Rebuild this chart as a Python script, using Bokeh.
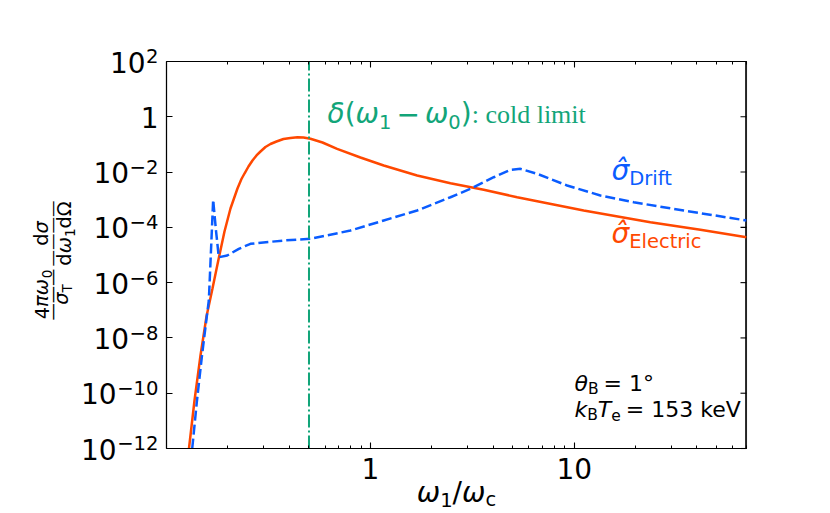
import math
from bokeh.plotting import figure
from bokeh.models import (Range1d, FixedTicker, CustomJSTickFormatter, LogAxis, Label, BoxAnnotation)
from bokeh.embed import file_html
from bokeh.resources import INLINE

# ---------------- data ----------------
omega_electric = [0.1289, 0.1372, 0.1468, 0.1571, 0.1681, 0.1799, 0.1925, 0.206, 0.2229,
                  0.2332, 0.2413, 0.2524, 0.2641, 0.2764, 0.2891, 0.3058, 0.3236, 0.3464,
                  0.3748, 0.4056, 0.439, 0.4698, 0.5085, 0.5823, 0.687, 0.894,
                  1.163, 1.696, 2.471, 3.599, 5.248, 11.13, 23.64, 41.59, 70.0]
sigma_electric = [1e-12, 5.45e-11, 2.31e-9, 5.96e-8, 6.14e-7, 6.87e-6, 7.08e-5, 4.81e-4, 2.55e-3,
                  5.61e-3, 8.87e-3, 0.0159, 0.0262, 0.0398, 0.0555, 0.0807, 0.1036, 0.1276,
                  0.157, 0.171, 0.1826, 0.178, 0.16, 0.1175, 0.0695, 0.0337,
                  0.0173, 0.0075, 3.96e-3, 2.29e-3, 1.23e-3, 4.07e-4, 1.54e-4, 8.2e-5, 4.4e-5]

omega_drift = [0.1337, 0.1411, 0.1493, 0.1576, 0.1613, 0.1653, 0.1694, 0.1749, 0.1805,
               0.1985, 0.2263, 0.2582, 0.376, 0.5085, 0.799, 1.163, 1.696, 2.471, 3.097,
               4.029, 4.866, 5.449, 6.577, 9.23, 13.44, 19.58, 34.44, 70.0]
sigma_drift = [1e-12, 5.45e-11, 2.31e-9, 5.96e-8, 2.26e-7, 1.46e-5, 9.9e-4, 7.69e-5, 8.3e-6,
               9.6e-6, 1.67e-5, 2.54e-5, 3.35e-5, 3.85e-5, 7.7e-5, 1.77e-4, 4.07e-4, 1.23e-3, 2.48e-3,
               6.5e-3, 0.0121, 0.0131, 8.65e-3, 3.27e-3, 1.42e-3, 8.1e-4, 4.07e-4, 1.77e-4]

cold_limit_omega = 0.5

x_axis_limits = [0.1, 70.0]
y_axis_limits = [1e-12, 1e2]
x_major_ticks = [1, 10]
x_minor_ticks = [0.1, 0.2, 0.3, 0.4, 0.5, 0.6, 0.7, 0.8, 0.9,
                 2, 3, 4, 5, 6, 7, 8, 9, 20, 30, 40, 50, 60, 70]
y_major_ticks = [1e-12, 1e-10, 1e-8, 1e-6, 1e-4, 1e-2, 1, 1e2]

ORANGE = "#ff4800"
BLUE = "#0a5cff"
GREEN = "#12a579"

# ---------------- geometry: the axes box inside an 830x513 canvas ----------------
W_PX, H_PX = 830, 513
BL, BR, BT, BB = 166, 746, 61, 448
TICK = 6
DX = (BR - BL) / math.log10(x_axis_limits[1] / x_axis_limits[0])
DY = (BB - BT) / math.log10(y_axis_limits[1] / y_axis_limits[0])
x_view = (x_axis_limits[0] * 10 ** (-BL / DX), x_axis_limits[1] * 10 ** ((W_PX - BR) / DX))
y_view = (y_axis_limits[0] * 10 ** (-(H_PX - BB) / DY), y_axis_limits[1] * 10 ** (BT / DY))

p = figure(width=W_PX, height=H_PX, x_axis_type="log", y_axis_type="log",
           x_range=Range1d(*x_view), y_range=Range1d(*y_view),
           x_axis_location=None, y_axis_location=None,
           output_backend="svg", toolbar_location=None,
           min_border_left=0, min_border_right=0, min_border_top=0, min_border_bottom=0)
p.xgrid.visible = False
p.ygrid.visible = False
p.outline_line_color = None
p.background_fill_color = "white"
p.border_fill_color = "white"

x_fmt = CustomJSTickFormatter(code="return String(Math.round(tick));")
blank_fmt = CustomJSTickFormatter(code="return '';")


def make_axis(ticker, fmt, loc, bounds, show_labels, standoff):
    ax = LogAxis(fixed_location=loc, bounds=bounds)
    ax.ticker = ticker
    ax.formatter = fmt
    ax.major_tick_in = TICK
    ax.major_tick_out = 0
    ax.minor_tick_in = 3
    ax.minor_tick_out = 0
    ax.axis_line_color = "black"
    ax.axis_line_width = 1.2
    ax.major_tick_line_color = "black"
    ax.major_tick_line_width = 1.1
    ax.minor_tick_line_color = "black"
    ax.minor_tick_line_width = 1.0
    ax.major_label_text_font = "DejaVu Sans"
    ax.major_label_text_font_size = "28px" if show_labels else "1px"
    ax.major_label_text_color = "black"
    ax.major_label_standoff = standoff
    return ax


xt = lambda: FixedTicker(ticks=x_major_ticks, minor_ticks=x_minor_ticks)
yt = lambda: FixedTicker(ticks=y_major_ticks, minor_ticks=[])
p.add_layout(make_axis(xt(), x_fmt, y_axis_limits[0], tuple(x_axis_limits), True, 9), "below")
p.add_layout(make_axis(xt(), blank_fmt, y_axis_limits[1], tuple(x_axis_limits), False, 0), "above")
p.add_layout(make_axis(yt(), blank_fmt, x_axis_limits[0], tuple(y_axis_limits), False, 0), "left")

# box outline around the axes area (gives the right-hand edge)
p.add_layout(BoxAnnotation(left=x_axis_limits[0], right=x_axis_limits[1],
                           bottom=y_axis_limits[0], top=y_axis_limits[1],
                           fill_color=None, fill_alpha=0, line_color="black", line_width=1.2,
                           level="overlay"))
x_edge = x_axis_limits[1] * 10 ** (-1.0 / DX)
p.quad(left=[x_edge], right=[x_axis_limits[1]], bottom=[y_axis_limits[0]], top=[y_axis_limits[1]],
       fill_color="black", line_color="black", line_width=0.6)
p.segment(x0=[x_axis_limits[1]] * len(y_major_ticks), y0=y_major_ticks,
          x1=[x_axis_limits[1] * 10 ** (-TICK / DX)] * len(y_major_ticks), y1=y_major_ticks,
          line_color="black", line_width=1.1)

# ---------------- curves ----------------
p.line(omega_electric, sigma_electric, line_color=ORANGE, line_width=2.5)
p.line(omega_drift, sigma_drift, line_color=BLUE, line_width=2.5, line_dash="10 4")
p.line([cold_limit_omega, cold_limit_omega], y_axis_limits, line_color=GREEN,
       line_width=2, line_dash="13 3 2 3")

# ---------------- text helpers (canvas-pixel placement -> data coords) ----------------


def X(px):
    return x_axis_limits[0] * 10 ** ((px - BL) / DX)


def Y(py):
    return y_axis_limits[1] * 10 ** (-(py - BT) / DY)


ADV = {' ': 0.318, '=': 0.838, '\u2212': 0.838, '(': 0.390, ')': 0.390, '/': 0.337, ':': 0.337,
       '\u00b0': 0.5, 'k': 0.579, 'e': 0.615, 'V': 0.684, 'T': 0.611, 'B': 0.686, 'D': 0.770,
       'r': 0.411, 'i': 0.278, 'f': 0.352, 't': 0.392, 'E': 0.632, 'l': 0.278, 'c': 0.550,
       'd': 0.635, '\u03b8': 0.613, '\u03c3': 0.634, '\u03c9': 0.838, '\u03b4': 0.612,
       '\u03c0': 0.636, '\u03a9': 0.764, '\u2014': 1.0, '\u0302': 0.0}
for dgt in "0123456789":
    ADV[dgt] = 0.636
MID = 0.346   # distance from baseline to the middle of the em box (DejaVu Sans)


def tw(s, size):
    return sum(ADV.get(ch, 0.6) for ch in s) * size


def rich(pieces, x, y, color="black", align="left", rotate=False, font="DejaVu Sans", mid=MID):
    """pieces: (text, size, style, baseline shift down, gap before); (x, y) = baseline start."""
    total = sum(tw(t, s) + pre for (t, s, st, dy, pre) in pieces)
    pos = {"left": 0.0, "center": -total / 2, "right": -total}[align]
    for t, s, st, dy, pre in pieces:
        pos += pre
        if rotate:
            px, py, ang = x + dy - mid * s, y - pos, math.pi / 2
        else:
            px, py, ang = x + pos, y + dy - mid * s, 0.0
        p.add_layout(Label(x=X(px), y=Y(py), text=t, text_font=font, text_font_size=f"{s}px",
                           text_font_style=st, text_color=color, angle=ang,
                           text_align="left", text_baseline="middle"))
        pos += tw(t, s)
    return x + pos


# y tick labels: 10 with a raised exponent
for t in y_major_ticks:
    e = round(math.log10(t))
    ty = BT + (math.log10(y_axis_limits[1]) - e) * DY
    if e == 0:
        rich([("1", 28, "normal", 0, 0)], 158, ty + 10.2, align="right")
    else:
        rich([("10", 28, "normal", 0, 0), (str(e).replace("-", "\u2212"), 19.6, "normal", -8.5, 0.5)],
             158, ty + 10.2, align="right")

# cold-limit annotation
end = rich([("\u03b4", 28, "italic", 0, 0), ("(", 28, "normal", 0, 0), ("\u03c9", 28, "italic", 0, 0),
            ("1", 19.5, "normal", 5, 0), ("\u2212", 28, "normal", 0, 5), ("\u03c9", 28, "italic", 0, 5),
            ("0", 19.5, "normal", 5, 0), (")", 28, "normal", 0, 0)], 327, 123, color=GREEN)
p.add_layout(Label(x=X(end), y=Y(123 - 0.34 * 26), text=": cold limit", text_font="Liberation Serif",
                   text_font_size="26px", text_color=GREEN, text_align="left",
                   text_baseline="middle"))

# series labels
rich([("\u03c3\u0302", 28, "italic", 0, 0), ("Drift", 19.5, "normal", 5, 0)], 611, 180, color=BLUE)
rich([("\u03c3\u0302", 28, "italic", 0, 0), ("Electric", 19.5, "normal", 5, 0)], 611, 243, color=ORANGE)

# parameters
rich([("\u03b8", 22, "italic", 0, 0), ("B", 15.5, "normal", 3, 0), ("= 1\u00b0", 22, "normal", 0, 5)], 574, 391)
rich([("k", 22, "italic", 0, 0), ("B", 15.5, "normal", 3, 0), ("T", 22, "italic", 0, 0),
      ("e", 15.5, "normal", 3, 0), ("= 153 keV", 22, "normal", 0, 5)], 574, 417)

# x-axis label
rich([("\u03c9", 28, "italic", 0, 0), ("1", 19.5, "normal", 4, 0), ("/", 28, "normal", 0, 0),
      ("\u03c9", 28, "italic", 0, 0), ("c", 19.5, "normal", 4, 0)], 456, 502, align="center")

# y-axis label (two stacked fractions, rotated)
FS, SS = 19.4, 13.6
rich([("4", FS, "normal", 0, 0), ("\u03c0\u03c9", FS, "italic", 0, 0), ("0", SS, "normal", 3, 0)],
     48, 294, align="center", rotate=True)
rich([("\u03c3", FS, "italic", 0, 0), ("T", SS, "normal", 3, 0)], 68, 294, align="center", rotate=True)
rich([("\u2014" * 3, 17.3, "normal", 0, 0)], 53 + 0.28 * 17.3, 294, align="center", rotate=True)
rich([("d", FS, "normal", 0, 0), ("\u03c3", FS, "italic", 0, 0)], 48, 233, align="center", rotate=True)
rich([("d", FS, "normal", 0, 0), ("\u03c9", FS, "italic", 0, 0), ("1", SS, "normal", 3, 0),
      ("d", FS, "normal", 0, 0), ("\u03a9", FS, "normal", 0, 0)], 71, 233, align="center", rotate=True)
rich([("\u2014" * 4, 16.5, "normal", 0, 0)], 53 + 0.28 * 16.5, 233, align="center", rotate=True)

open("out.html", "w").write(file_html(p, INLINE))
